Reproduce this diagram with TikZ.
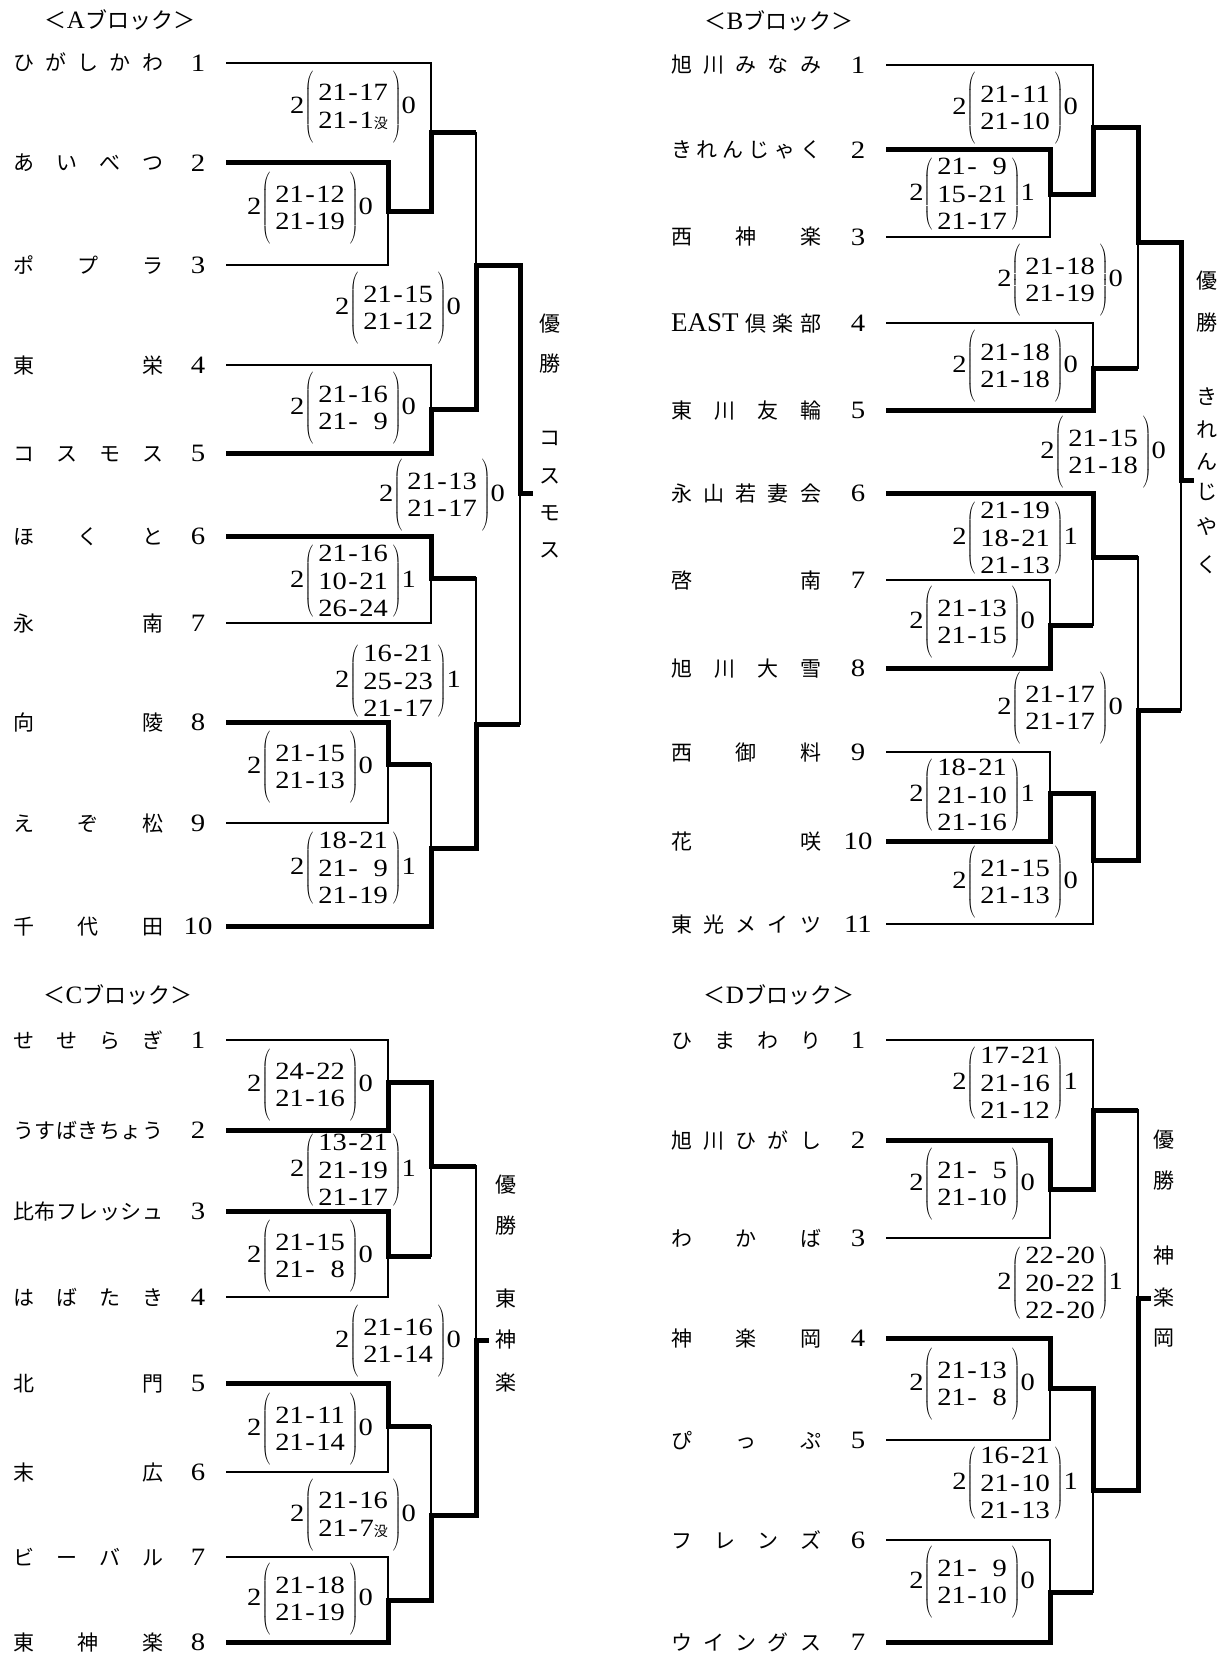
\documentclass[tikz,border=0pt]{standalone}
\usepackage{fontspec}
\setmainfont{Liberation Serif}
\newfontfamily\jp{Noto Sans CJK JP}
\newfontfamily\scf[FakeStretch=1.15]{Liberation Serif}
\makeatletter
\newcommand\jn[1]{\hbox to 150pt{\def\jn@sep{}\@tfor\jn@c:=#1\do{\jn@sep\jn@c\def\jn@sep{\hfill}}}}
\makeatother
\newcommand\botsu{{\jp\fontsize{14}{14}\selectfont 没}}
\newcommand\mscore[3]{#1$\delimitershortfall=0pt\delimiterfactor=1000\left(\kern5pt\vcenter{\hbox{\rule{0pt}{72pt}}}\vcenter{\baselineskip=27.5pt\lineskiplimit=-50pt\lineskip=0pt\halign{\hfil##&\kern1.5pt-\kern1.5pt\hfil##\cr#2\crcr}}\kern5pt\right)$#3}
\begin{document}
\begin{tikzpicture}[x=1pt,y=-1pt,
  thinl/.style={line width=1.3pt},
  thickl/.style={line width=5pt},
  nm/.style={anchor=west,inner sep=0pt,font=\jp\fontsize{21}{21}\selectfont,text height=18pt,text depth=2pt},
  num/.style={inner sep=0pt,font=\scf\fontsize{25}{25}\selectfont,text height=17pt,text depth=0pt},
  vt/.style={inner sep=0pt,font=\jp\fontsize{21}{21}\selectfont},
  ttl/.style={inner sep=0pt,font=\fontsize{25}{25}\selectfont},
  scorebox/.style={anchor=east,inner sep=0pt,font=\scf\fontsize{24.8}{27.5}\selectfont}]
\newcommand\teamL[4]{\node[nm] (n#1) at (13,#2) {\jn{#3}}; \node[num] (k#1) at (198,#2) {#4}; \coordinate (#1) at (226,#2);}
\newcommand\teamR[4]{\node[nm] (n#1) at (671,#2) {\jn{#3}}; \node[num] (k#1) at (858,#2) {#4}; \coordinate (#1) at (886,#2);}
\newcommand\sco[6]{\node[scorebox] (#1) at (#2,#3) {\mscore{#4}{#5}{#6}};}
\fill[white] (0,0) rectangle (1224,1653);

% titles
\node[ttl] (tA) at (120,20) {{\jp\fontsize{22}{22}\selectfont ＜}A{\jp\fontsize{22}{22}\selectfont ブロック＞}};
\node[ttl] (tB) at (779,21) {{\jp\fontsize{22}{22}\selectfont ＜}B{\jp\fontsize{22}{22}\selectfont ブロック＞}};
\node[ttl] (tC) at (118,995) {{\jp\fontsize{22}{22}\selectfont ＜}C{\jp\fontsize{22}{22}\selectfont ブロック＞}};
\node[ttl] (tD) at (779,995) {{\jp\fontsize{22}{22}\selectfont ＜}D{\jp\fontsize{22}{22}\selectfont ブロック＞}};

% ---------------- Block A
\teamL{A1}{63}{ひがしかわ}{1}
\teamL{A2}{163}{あいべつ}{2}
\teamL{A3}{265}{ポプラ}{3}
\teamL{A4}{365}{東栄}{4}
\teamL{A5}{453}{コスモス}{5}
\teamL{A6}{536}{ほくと}{6}
\teamL{A7}{623}{永南}{7}
\teamL{A8}{722}{向陵}{8}
\teamL{A9}{823}{えぞ松}{9}
\teamL{A10}{926}{千代田}{10}
\coordinate (aM1) at (388,212);
\coordinate (aM2) at (431,133);
\coordinate (aM3) at (431,409);
\coordinate (aM4) at (476,265);
\coordinate (aM5) at (431,578);
\coordinate (aM6) at (388,764);
\coordinate (aM7) at (431,848);
\coordinate (aM8) at (476,724);
\coordinate (aM9) at (520,493);
\coordinate (aEnd) at (533,493);
\draw[thinl] (A1) -| (aM2) (A2) -| (aM1) (A3) -| (aM1) (aM1) -| (aM2)
  (A4) -| (aM3) (A5) -| (aM3) (aM2) -| (aM4) (aM3) -| (aM4)
  (A6) -| (aM5) (A7) -| (aM5) (A8) -| (aM6) (A9) -| (aM6)
  (aM6) -| (aM7) (A10) -| (aM7) (aM5) -| (aM8) (aM7) -| (aM8)
  (aM4) -| (aM9) (aM8) -| (aM9);
\draw[thickl] (A2) -| (aM1) -| (aM2) -- (aM2 -| aM4);
\draw[thickl] (A5) -| (aM3) -| (aM4) -| (aM9) -- (aEnd);
\draw[thickl] (A6) -| (aM5) -- (aM5 -| aM8);
\draw[thickl] (A8) -| (aM6) -- (aM6 -| aM7);
\draw[thickl] (A10) -| (aM7) -| (aM8) -- (aM8 -| aM9);
\sco{sA1}{416}{107}{2}{21&17\cr21&1\botsu}{0}
\sco{sA2}{373}{208}{2}{21&12\cr21&19}{0}
\sco{sA3}{461}{308}{2}{21&15\cr21&12}{0}
\sco{sA4}{416}{408}{2}{21&16\cr21&9}{0}
\sco{sA5}{505}{495}{2}{21&13\cr21&17}{0}
\sco{sA6}{416}{581}{2}{21&16\cr10&21\cr26&24}{1}
\sco{sA7}{461}{681}{2}{16&21\cr25&23\cr21&17}{1}
\sco{sA8}{373}{767}{2}{21&15\cr21&13}{0}
\sco{sA9}{416}{868}{2}{18&21\cr21&9\cr21&19}{1}
\node[vt] (vA1) at (550,324) {優};
\node[vt] (vA2) at (550,364) {勝};
\node[vt] (vA3) at (550,438) {コ};
\node[vt] (vA4) at (550,476) {ス};
\node[vt] (vA5) at (550,513) {モ};
\node[vt] (vA6) at (550,550) {ス};

% ---------------- Block B
\teamR{B1}{65}{旭川みなみ}{1}
\teamR{B2}{150}{きれんじゃく}{2}
\teamR{B3}{237}{西神楽}{3}
\teamR{B4}{323}{{{\rmfamily\fontsize{27}{27}\selectfont EAST}}倶楽部}{4}
\teamR{B5}{410}{東川友輪}{5}
\teamR{B6}{493}{永山若妻会}{6}
\teamR{B7}{580}{啓南}{7}
\teamR{B8}{668}{旭川大雪}{8}
\teamR{B9}{752}{西御料}{9}
\teamR{B10}{841}{花咲}{10}
\teamR{B11}{924}{東光メイツ}{11}
\coordinate (bM1) at (1050,195);
\coordinate (bM2) at (1093,128);
\coordinate (bM3) at (1093,368);
\coordinate (bM4) at (1138,243);
\coordinate (bM6) at (1050,625);
\coordinate (bM5) at (1093,557);
\coordinate (bM7) at (1050,793);
\coordinate (bM8) at (1093,860);
\coordinate (bM9) at (1138,710);
\coordinate (bM10) at (1181,480);
\coordinate (bEnd) at (1194,480);
\draw[thinl] (B1) -| (bM2) (B2) -| (bM1) (B3) -| (bM1) (bM1) -| (bM2)
  (B4) -| (bM3) (B5) -| (bM3) (bM2) -| (bM4) (bM3) -| (bM4)
  (B7) -| (bM6) (B8) -| (bM6) (B6) -| (bM5) (bM6) -| (bM5)
  (B9) -| (bM7) (B10) -| (bM7) (bM7) -| (bM8) (B11) -| (bM8)
  (bM5) -| (bM9) (bM8) -| (bM9) (bM4) -| (bM10) (bM9) -| (bM10);
\draw[thickl] (B2) -| (bM1) -| (bM2) -| (bM4) -| (bM10) -- (bEnd);
\draw[thickl] (B5) -| (bM3) -- (bM3 -| bM4);
\draw[thickl] (B8) -| (bM6) -- (bM6 -| bM5);
\draw[thickl] (B6) -| (bM5) -- (bM5 -| bM9);
\draw[thickl] (B10) -| (bM7) -| (bM8) -| (bM9) -- (bM9 -| bM10);
\sco{sB1}{1078}{108}{2}{21&11\cr21&10}{0}
\sco{sB2}{1035}{194}{2}{21&9\cr15&21\cr21&17}{1}
\sco{sB3}{1123}{280}{2}{21&18\cr21&19}{0}
\sco{sB4}{1078}{366}{2}{21&18\cr21&18}{0}
\sco{sB5}{1166}{452}{2}{21&15\cr21&18}{0}
\sco{sB6}{1078}{538}{2}{21&19\cr18&21\cr21&13}{1}
\sco{sB7}{1035}{622}{2}{21&13\cr21&15}{0}
\sco{sB8}{1123}{708}{2}{21&17\cr21&17}{0}
\sco{sB9}{1035}{795}{2}{18&21\cr21&10\cr21&16}{1}
\sco{sB10}{1078}{882}{2}{21&15\cr21&13}{0}
\node[vt] (vB1) at (1207,281) {優};
\node[vt] (vB2) at (1207,323) {勝};
\node[vt] (vB3) at (1207,397) {き};
\node[vt] (vB4) at (1207,430) {れ};
\node[vt] (vB5) at (1207,462) {ん};
\node[vt] (vB6) at (1207,492) {じ};
\node[vt] (vB7) at (1207,527) {や};
\node[vt] (vB8) at (1207,565) {く};

% ---------------- Block C
\teamL{C1}{1040}{せせらぎ}{1}
\teamL{C2}{1130}{うすばきちょう}{2}
\teamL{C3}{1211}{比布フレッシュ}{3}
\teamL{C4}{1297}{はばたき}{4}
\teamL{C5}{1383}{北門}{5}
\teamL{C6}{1472}{末広}{6}
\teamL{C7}{1557}{ビーバル}{7}
\teamL{C8}{1642}{東神楽}{8}
\coordinate (cM1) at (388,1082);
\coordinate (cM2) at (388,1256);
\coordinate (cM3) at (431,1166);
\coordinate (cM4) at (388,1426);
\coordinate (cM5) at (388,1600);
\coordinate (cM6) at (431,1515);
\coordinate (cM7) at (476,1340);
\coordinate (cEnd) at (489,1340);
\draw[thinl] (C1) -| (cM1) (C2) -| (cM1) (C3) -| (cM2) (C4) -| (cM2)
  (cM1) -| (cM3) (cM2) -| (cM3) (C5) -| (cM4) (C6) -| (cM4)
  (C7) -| (cM5) (C8) -| (cM5) (cM4) -| (cM6) (cM5) -| (cM6)
  (cM3) -| (cM7) (cM6) -| (cM7);
\draw[thickl] (C2) -| (cM1) -| (cM3) -- (cM3 -| cM7);
\draw[thickl] (C3) -| (cM2) -- (cM2 -| cM3);
\draw[thickl] (C5) -| (cM4) -- (cM4 -| cM6);
\draw[thickl] (C8) -| (cM5) -| (cM6) -| (cM7) -- (cEnd);
\sco{sC1}{373}{1085}{2}{24&22\cr21&16}{0}
\sco{sC2}{416}{1170}{2}{13&21\cr21&19\cr21&17}{1}
\sco{sC3}{373}{1256}{2}{21&15\cr21&8}{0}
\sco{sC4}{461}{1341}{2}{21&16\cr21&14}{0}
\sco{sC5}{373}{1429}{2}{21&11\cr21&14}{0}
\sco{sC6}{416}{1515}{2}{21&16\cr21&7\botsu}{0}
\sco{sC7}{373}{1599}{2}{21&18\cr21&19}{0}
\node[vt] (vC1) at (506,1185) {優};
\node[vt] (vC2) at (506,1226) {勝};
\node[vt] (vC3) at (506,1299) {東};
\node[vt] (vC4) at (506,1340) {神};
\node[vt] (vC5) at (506,1382) {楽};

% ---------------- Block D
\teamR{D1}{1040}{ひまわり}{1}
\teamR{D2}{1140}{旭川ひがし}{2}
\teamR{D3}{1238}{わかば}{3}
\teamR{D4}{1338}{神楽岡}{4}
\teamR{D5}{1440}{ぴっぷ}{5}
\teamR{D6}{1540}{フレンズ}{6}
\teamR{D7}{1642}{ウイングス}{7}
\coordinate (dM1) at (1050,1189);
\coordinate (dM2) at (1093,1110);
\coordinate (dM3) at (1050,1388);
\coordinate (dM4) at (1050,1592);
\coordinate (dM5) at (1093,1490);
\coordinate (dM6) at (1138,1298);
\coordinate (dEnd) at (1151,1298);
\draw[thinl] (D2) -| (dM1) (D3) -| (dM1) (D1) -| (dM2) (dM1) -| (dM2)
  (D4) -| (dM3) (D5) -| (dM3) (D6) -| (dM4) (D7) -| (dM4)
  (dM3) -| (dM5) (dM4) -| (dM5) (dM2) -| (dM6) (dM5) -| (dM6);
\draw[thickl] (D2) -| (dM1) -| (dM2) -- (dM2 -| dM6);
\draw[thickl] (D4) -| (dM3) -| (dM5) -| (dM6) -- (dEnd);
\draw[thickl] (D7) -| (dM4) -- (dM4 -| dM5);
\sco{sD1}{1078}{1083}{2}{17&21\cr21&16\cr21&12}{1}
\sco{sD2}{1035}{1184}{2}{21&5\cr21&10}{0}
\sco{sD3}{1123}{1283}{2}{22&20\cr20&22\cr22&20}{1}
\sco{sD4}{1035}{1384}{2}{21&13\cr21&8}{0}
\sco{sD5}{1078}{1483}{2}{16&21\cr21&10\cr21&13}{1}
\sco{sD6}{1035}{1582}{2}{21&9\cr21&10}{0}
\node[vt] (vD1) at (1164,1140) {優};
\node[vt] (vD2) at (1164,1181) {勝};
\node[vt] (vD3) at (1164,1256) {神};
\node[vt] (vD4) at (1164,1297) {楽};
\node[vt] (vD5) at (1164,1338) {岡};
\end{tikzpicture}
\end{document}
